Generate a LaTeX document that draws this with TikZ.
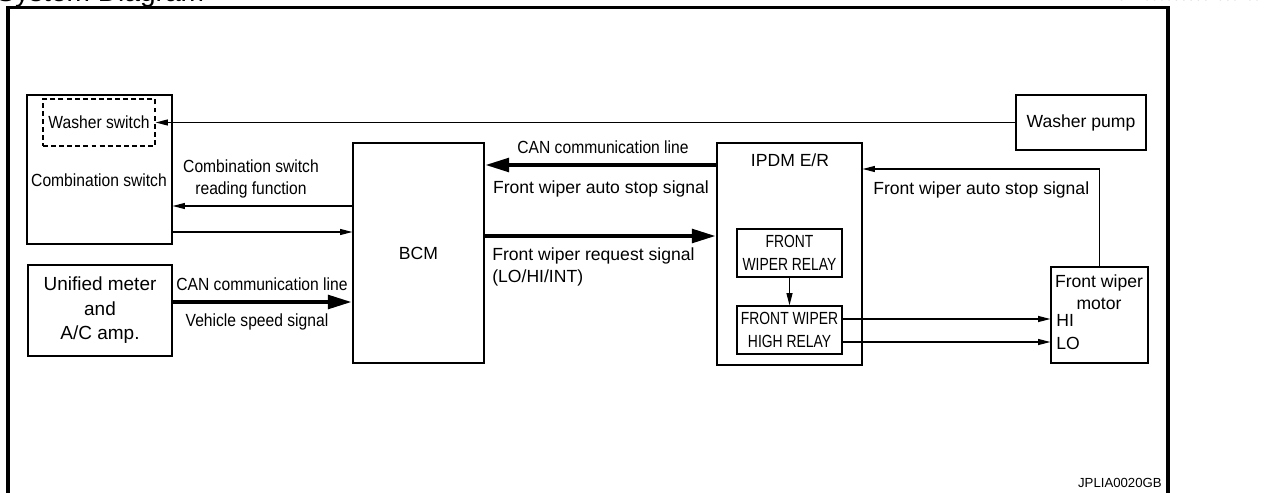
\documentclass[tikz,border=0pt]{standalone}
\usepackage{fontspec}
\setmainfont{Liberation Sans}
\newfontfamily\condfont[FakeStretch=0.89]{Liberation Sans}
\newfontfamily\relayfont[FakeStretch=0.79]{Liberation Sans}
\usetikzlibrary{arrows.meta}
\tikzset{
  box/.style={draw, line width=0.7pt, inner sep=0pt},
  lbl/.style={inner sep=0pt, font=\fontsize{10}{12.5}\selectfont},
  cond/.style={inner sep=0pt, font=\condfont\fontsize{10}{12.5}\selectfont},
  relaytxt/.style={font=\relayfont\fontsize{10}{12.8}\selectfont, align=center},
  sig/.style={line width=0.7pt, -{Triangle[length=7pt,width=3.4pt]}},
  can/.style={line width=2.8pt, -{Triangle[length=14pt,width=7.5pt]}},
  frame/.style={line width=1.8pt}
}
\begin{document}
\begin{tikzpicture}[x=0.02cm,y=-0.02cm]
\useasboundingbox (0,0) rectangle (1277,493);
\clip (0,0) rectangle (1277,493);
% page header, cut off at the top
\node[anchor=base west, inner sep=0pt, font=\fontsize{16}{18}\selectfont] (hdr) at (-4,1.5) {System Diagram};
\node[anchor=base west, inner sep=0pt, font=\fontsize{7.5}{9}\selectfont] (infoid) at (1095,0.5) {INFOID:0000000001305485};
\draw[frame] (8,520) -- (8,7.5) -- (1168,7.5) -- (1168,520);

% units
\node[box, minimum width=2.9cm, minimum height=2.98cm] (comb) at (99.5,169.5) {};
\node[box, dashed, dash pattern=on 2.8pt off 1.8pt, minimum width=2.24cm, minimum height=0.94cm, font=\condfont] (washsw) at (99,122.5) {Washer switch};
\node[cond] (combtxt) at (99,180) {Combination switch};
\node[box, minimum width=2.88cm, minimum height=1.82cm, align=center, font=\fontsize{10.8}{13.9}\selectfont] (meter) at (100,310.5) {Unified meter\\and\\A/C amp.};
\node[box, minimum width=2.62cm, minimum height=4.4cm, font=\fontsize{10}{12}\selectfont] (bcm) at (418.5,253) {BCM};
\node[box, minimum width=2.9cm, minimum height=4.44cm] (ipdm) at (789.5,254) {};
\node[lbl] (ipdmtxt) at (790,160) {IPDM E/R};
\node[box, minimum width=2.1cm, minimum height=0.96cm, relaytxt] (relay) at (789.5,253) {FRONT\\WIPER RELAY};
\node[box, minimum width=2.1cm, minimum height=0.96cm, relaytxt] (hirelay) at (789.5,330) {FRONT WIPER\\HIGH RELAY};
\node[box, minimum width=2.6cm, minimum height=1.1cm, font=\fontsize{10}{12}\selectfont] (pump) at (1081,122.5) {Washer pump};
\node[box, minimum width=1.94cm, minimum height=1.92cm] (motor) at (1099.5,315) {};
\node[lbl] (motortxt) at (1099,283) {Front wiper};
\node[lbl] (motortxt2) at (1099,304) {motor};
\node[lbl, anchor=west] (hi) at (1056,320) {HI};
\node[lbl, anchor=west] (lo) at (1056,343) {LO};

% signals
\draw[sig] (pump.west) -- (washsw.east |- pump.west);
\draw[sig] (bcm.west |- 0,206) -- (comb.east |- 0,206);
\draw[sig] (comb.east |- 0,232) -- (bcm.west |- 0,232);
\node[cond, align=center] (readtxt) at (251,179) {Combination switch\\reading function};
\draw[can] (meter.east |- 0,302) -- (bcm.west |- 0,302);
\node[cond] (can1) at (262,284) {CAN communication line};
\node[cond] (speed) at (257,322) {Vehicle speed signal};
\draw[can] (ipdm.west |- 0,165) -- (bcm.east |- 0,165);
\node[cond] (can2) at (603,147) {CAN communication line};
\node[lbl] (stop1) at (601,189) {Front wiper auto stop signal};
\draw[can] (bcm.east |- 0,236) -- (ipdm.west |- 0,236);
\node[lbl, anchor=west, align=left] (req) at (492,266.5) {Front wiper request signal\\(LO/HI/INT)};
\draw[sig] (relay) -- (hirelay);
\draw[sig] (hirelay.east |- 0,319) -- (motor.west |- 0,319);
\draw[sig] (hirelay.east |- 0,342) -- (motor.west |- 0,342);
\draw[sig] (motor.north) |- (ipdm.east |- 0,169);
\node[lbl, anchor=west] (stop2) at (873,190) {Front wiper auto stop signal};

\node[anchor=base east, inner sep=0pt, font=\fontsize{7.5}{9}\selectfont] (code) at (1162,487) {JPLIA0020GB};
\end{tikzpicture}
\end{document}
